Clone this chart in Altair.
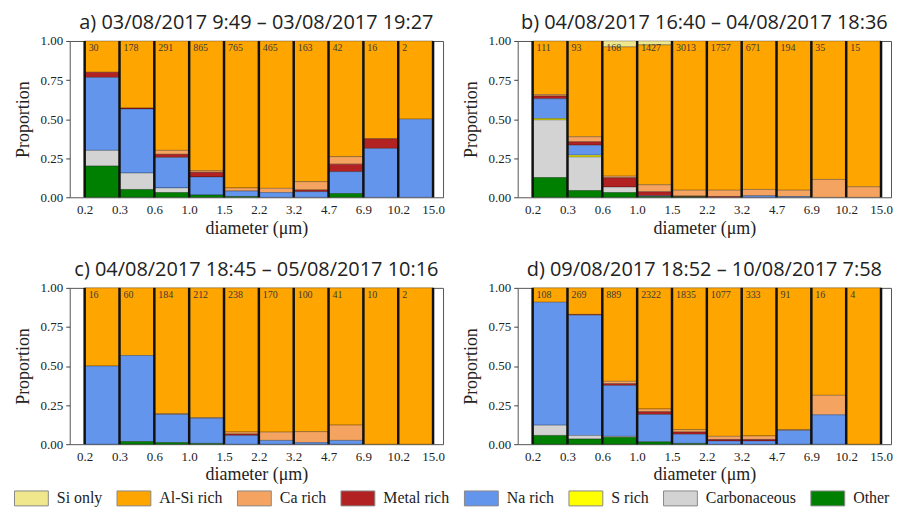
import json
import altair as alt
import pandas as pd

EDGES = ["0.2", "0.3", "0.6", "1.0", "1.5", "2.2", "3.2", "4.7", "6.9", "10.2", "15.0"]
CATEGORIES = ["Si only", "Al-Si rich", "Ca rich", "Metal rich", "Na rich", "S rich", "Carbonaceous", "Other"]
COLORS = ["#F0E68C", "#FFA500", "#F4A460", "#B22222", "#6495ED", "#FFFF00", "#D3D3D3", "#008000"]
STACK_ORDER = ["Other", "Carbonaceous", "S rich", "Na rich", "Metal rich", "Ca rich", "Al-Si rich", "Si only"]

TITLES = [
    "a) 03/08/2017 9:49 \u2013 03/08/2017 19:27",
    "b) 04/08/2017 16:40 \u2013 04/08/2017 18:36",
    "c) 04/08/2017 18:45 \u2013 05/08/2017 10:16",
    "d) 09/08/2017 18:52 \u2013 10/08/2017 7:58",
]

# ---- panel a ----
A_COUNTS = [30, 178, 291, 865, 765, 465, 163, 42, 16, 2]
A_SI_ONLY = [0, 0, 0, 0, 0, 0, 0, 0, 0, 0]
A_AL_SI = [0.20, 0.429, 0.70, 0.83, 0.94, 0.943, 0.90, 0.74, 0.625, 0.5]
A_CA = [0, 0, 0.025, 0.01, 0.02, 0.027, 0.053, 0.048, 0, 0]
A_METAL = [0.033, 0.006, 0.02, 0.03, 0, 0, 0.011, 0.048, 0.0625, 0]
A_NA = [0.467, 0.41, 0.195, 0.115, 0.035, 0.03, 0.036, 0.14, 0.3125, 0.5]
A_S = [0, 0, 0, 0, 0, 0, 0, 0, 0, 0]
A_CARB = [0.10, 0.105, 0.03, 0, 0, 0, 0, 0, 0, 0]
A_OTHER = [0.20, 0.05, 0.03, 0.015, 0.005, 0, 0, 0.024, 0, 0]

# ---- panel b ----
B_COUNTS = [111, 93, 168, 1427, 3013, 1757, 671, 194, 35, 15]
B_SI_ONLY = [0, 0, 0.038, 0.025, 0, 0, 0, 0, 0, 0]
B_AL_SI = [0.343, 0.613, 0.827, 0.895, 0.955, 0.955, 0.95, 0.955, 0.886, 0.933]
B_CA = [0.009, 0.032, 0.01, 0.045, 0.037, 0.04, 0.04, 0.04, 0.114, 0.067]
B_METAL = [0.018, 0.022, 0.06, 0.025, 0.005, 0.005, 0, 0, 0, 0]
B_NA = [0.126, 0.064, 0, 0.005, 0, 0, 0.01, 0.005, 0, 0]
B_S = [0.009, 0.011, 0, 0, 0, 0, 0, 0, 0, 0]
B_CARB = [0.369, 0.215, 0.035, 0, 0, 0, 0, 0, 0, 0]
B_OTHER = [0.126, 0.043, 0.03, 0.005, 0.003, 0, 0, 0, 0, 0]

# ---- panel c ----
C_COUNTS = [16, 60, 184, 212, 238, 170, 100, 41, 10, 2]
C_SI_ONLY = [0, 0, 0, 0, 0, 0, 0, 0, 0, 0]
C_AL_SI = [0.5, 0.433, 0.805, 0.83, 0.922, 0.923, 0.92, 0.878, 1.0, 1.0]
C_CA = [0, 0, 0.005, 0.005, 0.013, 0.053, 0.07, 0.098, 0, 0]
C_METAL = [0, 0, 0, 0, 0.01, 0, 0, 0, 0, 0]
C_NA = [0.5, 0.55, 0.18, 0.16, 0.055, 0.024, 0.01, 0.024, 0, 0]
C_S = [0, 0, 0, 0, 0, 0, 0, 0, 0, 0]
C_CARB = [0, 0, 0, 0, 0, 0, 0, 0, 0, 0]
C_OTHER = [0, 0.017, 0.01, 0.005, 0, 0, 0, 0, 0, 0]

# ---- panel d ----
D_COUNTS = [108, 269, 889, 2322, 1835, 1077, 333, 91, 16, 4]
D_SI_ONLY = [0, 0, 0, 0, 0, 0, 0, 0, 0, 0]
D_AL_SI = [0.092, 0.17, 0.598, 0.775, 0.907, 0.95, 0.947, 0.907, 0.6875, 1.0]
D_CA = [0, 0, 0.015, 0.017, 0.015, 0.02, 0.023, 0.005, 0.125, 0]
D_METAL = [0, 0.005, 0.012, 0.018, 0.015, 0.01, 0.01, 0, 0, 0]
D_NA = [0.787, 0.77, 0.325, 0.175, 0.058, 0.02, 0.02, 0.088, 0.1875, 0]
D_S = [0, 0, 0, 0, 0, 0, 0, 0, 0, 0]
D_CARB = [0.065, 0.022, 0.005, 0, 0, 0, 0, 0, 0, 0]
D_OTHER = [0.056, 0.033, 0.045, 0.015, 0.005, 0, 0, 0, 0, 0]

PANELS = [
    (A_COUNTS, [A_SI_ONLY, A_AL_SI, A_CA, A_METAL, A_NA, A_S, A_CARB, A_OTHER]),
    (B_COUNTS, [B_SI_ONLY, B_AL_SI, B_CA, B_METAL, B_NA, B_S, B_CARB, B_OTHER]),
    (C_COUNTS, [C_SI_ONLY, C_AL_SI, C_CA, C_METAL, C_NA, C_S, C_CARB, C_OTHER]),
    (D_COUNTS, [D_SI_ONLY, D_AL_SI, D_CA, D_METAL, D_NA, D_S, D_CARB, D_OTHER]),
]

PANEL_W = 375
PANEL_H = 157
X_DOMAIN = [-0.4286, 10.286]

label_expr = json.dumps(EDGES) + "[datum.value]"
x_scale = alt.Scale(domain=X_DOMAIN, nice=False, zero=False)
y_scale = alt.Scale(domain=[0, 1], nice=False)
x_axis = alt.Axis(values=list(range(len(EDGES))), labelExpr=label_expr, title="diameter (\u03bcm)",
                  tickSize=0, labelPadding=6, titlePadding=3, labelFlush=False)
y_axis = alt.Axis(values=[0, 0.25, 0.5, 0.75, 1.0], format=".2f", title="Proportion",
                  tickSize=4, labelPadding=3, titlePadding=8)

legend = alt.Legend(
    orient="none", legendX=-56, legendY=442, direction="horizontal", title=None,
    symbolType="M-1,-0.441H1V0.441H-1Z", symbolSize=1156, symbolStrokeColor="#888",
    symbolStrokeWidth=1, labelFont="Liberation Serif", labelFontSize=16, labelColor="#222",
    labelOffset=8, columnPadding=12, padding=0, labelLimit=200,
)


def panel(idx):
    counts, series = PANELS[idx]
    rows = []
    for cat, vals in zip(CATEGORIES, series):
        for b, v in enumerate(vals):
            if v > 0:
                rows.append({"bin": b, "bin_end": b + 1, "cat": cat, "v": v,
                             "ord": STACK_ORDER.index(cat)})
    df = pd.DataFrame(rows)
    bars = alt.Chart(df).transform_stack(
        stack="v", groupby=["bin"], as_=["y0", "y1"], sort=[alt.SortField("ord", order="ascending")]
    ).mark_rect(stroke="#000", strokeWidth=0.6, strokeOpacity=0.45).encode(
        x=alt.X("bin:Q", scale=x_scale, axis=x_axis),
        x2="bin_end:Q",
        y=alt.Y("y0:Q", scale=y_scale, axis=y_axis),
        y2="y1:Q",
        color=alt.Color("cat:N", scale=alt.Scale(domain=CATEGORIES, range=COLORS), legend=legend),
    )
    edges_df = pd.DataFrame({"edge": list(range(len(EDGES))), "lo": 0.0, "hi": 1.0})
    rules = alt.Chart(edges_df).mark_rule(color="#111", strokeWidth=2.5).encode(
        x=alt.X("edge:Q", scale=x_scale, axis=x_axis),
        y=alt.Y("lo:Q", scale=y_scale, axis=y_axis),
        y2="hi:Q",
    )
    cnt_df = pd.DataFrame({"bin": list(range(len(counts))), "n": counts, "top": 1.0})
    texts = alt.Chart(cnt_df).mark_text(
        align="left", baseline="top", dx=4, dy=2, font="Liberation Serif", fontSize=10, color="#3a3a3a"
    ).encode(
        x=alt.X("bin:Q", scale=x_scale, axis=x_axis),
        y=alt.Y("top:Q", scale=y_scale, axis=y_axis),
        text="n:Q",
    )
    return alt.layer(bars, rules, texts).properties(
        width=PANEL_W, height=PANEL_H, title=alt.Title(TITLES[idx], frame="group")
    )


chart = alt.vconcat(
    alt.hconcat(panel(0), panel(1), spacing=16),
    alt.hconcat(panel(2), panel(3), spacing=16),
    spacing=21,
).resolve_scale(color="shared").properties(
    padding={"left": 5, "top": 3, "right": 0, "bottom": 0}
).configure_view(stroke="#555", strokeWidth=1).configure_axis(
    labelFont="Liberation Serif", labelFontSize=13, labelColor="#222",
    titleFont="Liberation Serif", titleFontSize=18, titleColor="#222", titleFontWeight="normal",
    grid=False, domain=False, tickColor="#444",
).configure_legend(
    labelFont="Liberation Serif", labelFontSize=16, labelColor="#222",
).configure_title(
    font="Open Sans", fontSize=20, fontWeight="normal", color="#222", anchor="middle", offset=2
)

chart.save("out.html", embed_options={"renderer": "svg", "actions": False})
